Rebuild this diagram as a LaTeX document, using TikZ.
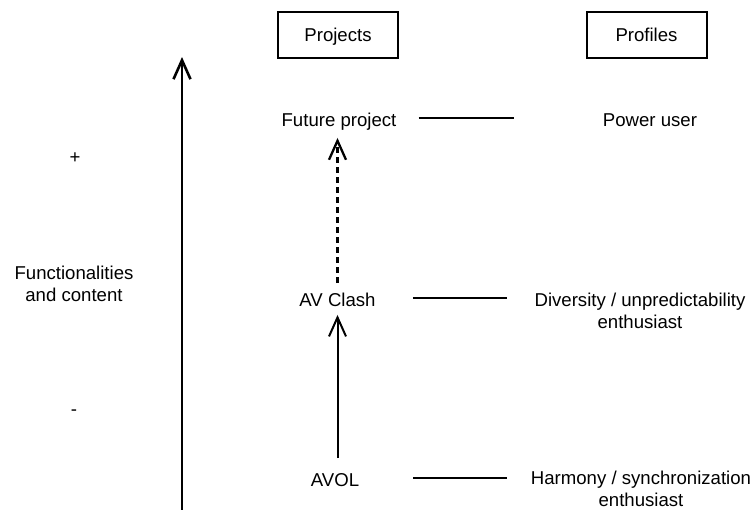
\documentclass[tikz,border=0pt]{standalone}
\usepackage{fontspec}
\setmainfont{Liberation Sans}
\usetikzlibrary{arrows.meta}

\begin{document}
\begin{tikzpicture}[
  x=1pt, y=1pt,
  every node/.style={font=\fontsize{18.6pt}{22pt}\selectfont, inner sep=0pt},
  label1/.style={text height=13.5pt, text depth=0pt},
  multi/.style={align=center, anchor=north},
  headbox/.style={label1, draw, line width=2pt, minimum width=120pt, minimum height=46pt},
  link/.style={line width=2pt},
  barb/.style={-{Straight Barb[length=19pt,width=17pt]}},
  dashlink/.style={line width=2.3pt, dash pattern=on 6pt off 4pt}
]
\useasboundingbox (0,0) rectangle (754,-509);

% column headers
\node[headbox] (hproj) at (338,-35) {Projects};
\node[headbox] (hprof) at (646.5,-35) {Profiles};

% vertical scale
\coordinate (axisbot) at (182,-515);
\coordinate (axistop) at (182,-57);
\draw[line width=2.6pt, barb] (axisbot) -- (axistop);
\node[label1] (plus) at (75,-157) {+};
\node[label1] (minus) at (74,-409) {-};
\node[multi] (axlabel) at (74,-266) {Functionalities\\and content};

% projects
\node[label1] (future) at (339,-120) {Future project};
\node[label1] (avclash) at (337.5,-300) {AV Clash};
\node[label1] (avol) at (335,-480) {AVOL};

% profiles
\node[label1] (power) at (650,-120) {Power user};
\node[multi] (diversity) at (640,-293) {Diversity / unpredictability\\enthusiast};
\node[multi] (harmony) at (641,-470.5) {Harmony / synchronization\\enthusiast};

% evolution between projects, kept on one vertical through AV Clash
\draw[dashlink, barb, shorten <=10pt, shorten >=11pt]
  (avclash.north) -- (avclash.north |- future.south);
\draw[link, barb, shorten <=15pt, shorten >=8pt]
  (avol.north -| avclash.south) -- (avclash.south);

% project to profile links
\draw[link] ([xshift=22pt,yshift=2pt]future.east) -- ++(95,0);
\draw[link] ([xshift=37pt,yshift=2pt]avclash.east) -- ++(94,0);
\draw[link] ([xshift=54pt,yshift=2pt]avol.east) -- ++(94,0);
\end{tikzpicture}
\end{document}
